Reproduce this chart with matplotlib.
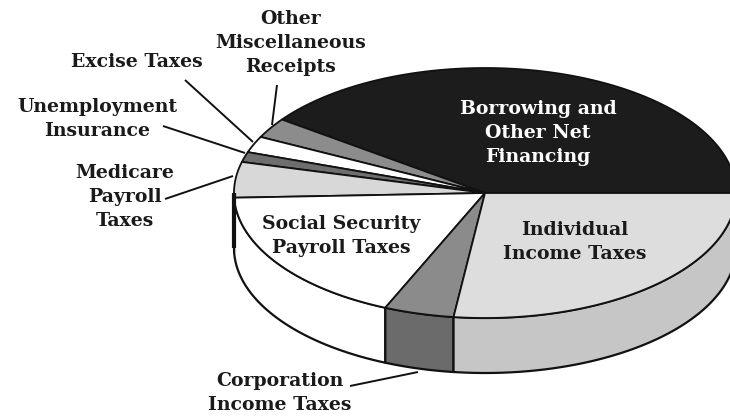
import numpy as np
import matplotlib
matplotlib.use("Agg")
import matplotlib.pyplot as plt
from matplotlib.patches import Polygon

# Data (percent of receipts), counter-clockwise starting at 3 o'clock
categories = ["Borrowing and Other Net Financing", "Other Miscellaneous Receipts",
              "Excise Taxes", "Unemployment Insurance", "Medicare Payroll Taxes",
              "Social Security Payroll Taxes", "Corporation Income Taxes",
              "Individual Income Taxes"]
values = [40.0, 2.6, 2.1, 1.3, 4.6, 17.9, 4.5, 27.0]
top_colors = ["#1c1c1c", "#8c8c8c", "#ffffff", "#6e6e6e", "#d8d8d8", "#ffffff", "#8b8b8b", "#dddddd"]
side_colors = ["#111111", "#6e6e6e", "#ffffff", "#555555", "#bdbdbd", "#ffffff", "#6b6b6b", "#c6c6c6"]

W, H = 730, 418
fig = plt.figure(figsize=(W / 100, H / 100), dpi=100)
ax = fig.add_axes([0, 0, 1, 1])
ax.set_xlim(0, W)
ax.set_ylim(H, 0)
ax.axis("off")

cx, cy, rx, ry, depth = 485, 193, 251, 125, 55

def pt(theta_deg):
    t = np.radians(theta_deg)
    return cx + rx * np.cos(t), cy - ry * np.sin(t)

total = sum(values)
angles = np.concatenate([[0], np.cumsum(values) / total * 360.0])

# side walls (front half only)
for i in range(len(values)):
    a1, a2 = max(angles[i], 180), min(angles[i + 1], 360)
    if a2 <= a1:
        continue
    th = np.linspace(a1, a2, 80)
    xs, ys = pt(th)
    poly = np.column_stack([np.concatenate([xs, xs[::-1]]),
                            np.concatenate([ys, ys[::-1] + depth])])
    ax.add_patch(Polygon(poly, closed=True, facecolor=side_colors[i],
                         edgecolor="#111111", lw=1.6, joinstyle="round"))

# thick left edge of the wall
lx, ly = pt(180)
ax.plot([lx, lx], [ly, ly + depth], color="#111111", lw=3.0, solid_capstyle="butt")

# top wedges
for i in range(len(values)):
    th = np.linspace(angles[i], angles[i + 1], 200)
    xs, ys = pt(th)
    poly = np.column_stack([np.concatenate([[cx], xs]), np.concatenate([[cy], ys])])
    ax.add_patch(Polygon(poly, closed=True, facecolor=top_colors[i],
                         edgecolor="#111111", lw=1.3, joinstyle="round"))

font = dict(family="DejaVu Serif", fontweight="bold", fontsize=13.6,
            ha="center", va="center", linespacing=1.4)
tc = "#1a1a1a"

ax.text(538, 133, "Borrowing and\nOther Net\nFinancing", color="white", **font)
ax.text(575, 242, "Individual\nIncome Taxes", color=tc, **font)
ax.text(341, 236, "Social Security\nPayroll Taxes", color=tc, **font)
ax.text(280, 393, "Corporation\nIncome Taxes", color=tc, **font)
ax.text(125, 197, "Medicare\nPayroll\nTaxes", color=tc, **font)
ax.text(97, 119, "Unemployment\nInsurance", color=tc, **font)
ax.text(137, 62, "Excise Taxes", color=tc, **font)
ax.text(291, 43, "Other\nMiscellaneous\nReceipts", color=tc, **font)

# leader lines
leaders = [((350, 386), (418, 372)),
           ((165, 199), (233, 176)),
           ((163, 126), (245, 153)),
           ((185, 80), (253, 142)),
           ((277, 85), (272, 125))]
for (x1, y1), (x2, y2) in leaders:
    ax.plot([x1, x2], [y1, y2], color="#111111", lw=1.4, solid_capstyle="butt")

fig.savefig("out.png", dpi=100)
